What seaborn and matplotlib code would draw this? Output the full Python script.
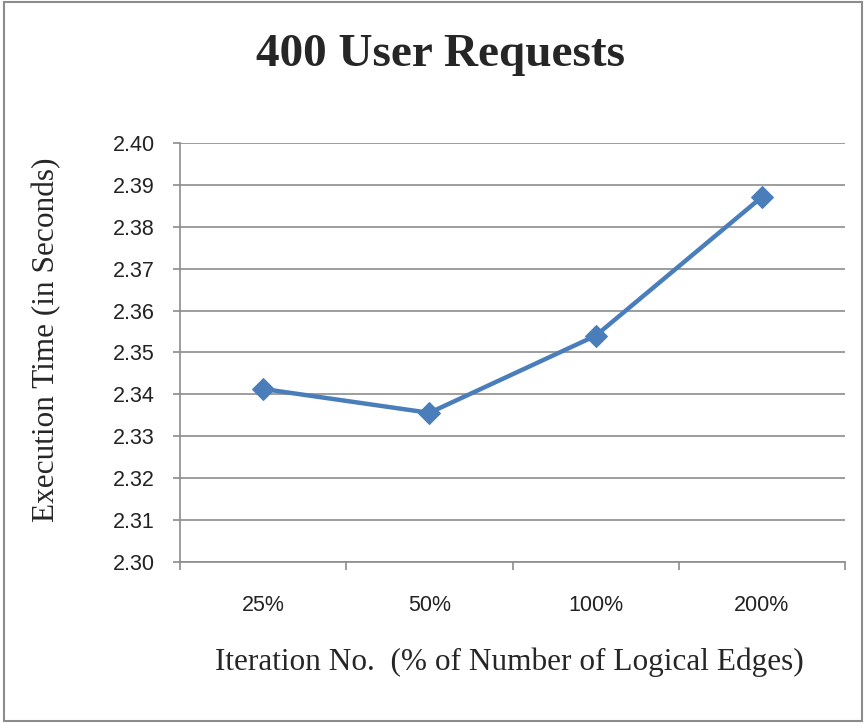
import matplotlib
matplotlib.use("Agg")
import matplotlib.pyplot as plt
import seaborn as sns
import pandas as pd
from matplotlib.patches import Rectangle
from matplotlib.ticker import FixedLocator

categories = ["25%", "50%", "100%", "200%"]
exec_time = [2.3413, 2.3356, 2.3540, 2.3871]
y_ticks = [2.30, 2.31, 2.32, 2.33, 2.34, 2.35, 2.36, 2.37, 2.38, 2.39, 2.40]

title = "400 User Requests"
x_label = "Iteration No.  (% of Number of Logical Edges)"
y_label = "Execution Time (in Seconds)"

sns.set_style("white")
serif = ["Liberation Serif", "DejaVu Serif"]
sans = ["Liberation Sans Narrow", "Liberation Sans", "DejaVu Sans"]

df = pd.DataFrame({"cat": categories, "val": exec_time})
df["pos"] = range(len(categories))

fig = plt.figure(figsize=(8.66, 7.23), dpi=100)
ax = fig.add_axes([180/866, 1-562/723, 665/866, (562-143)/723])

grid_c = "#8c8c8c"
for t in y_ticks:
    ax.axhline(t, color=grid_c, lw=1.2, zorder=0)

sns.lineplot(data=df, x="pos", y="val", ax=ax, color="#4A7EBB", lw=3.2,
             marker="D", markersize=11, markeredgecolor="#4A7EBB", zorder=3)

ax.set_xlim(-0.5, len(categories) - 0.5)
ax.set_ylim(2.30, 2.40)
ax.set_yticks(y_ticks)
ax.set_yticklabels([f"{t:.2f}" for t in y_ticks], family=sans, fontsize=15.5, color="#222222")
ax.set_xticks(range(len(categories)))
ax.set_xticklabels(categories, family=sans, fontsize=15.5, color="#222222")
ax.xaxis.set_minor_locator(FixedLocator([i - 0.5 for i in range(len(categories) + 1)]))
ax.tick_params(axis="x", which="major", length=0, pad=24)
ax.tick_params(axis="x", which="minor", length=6, width=1.2, color=grid_c, direction="out", bottom=True)
ax.tick_params(axis="y", which="major", length=5, width=1.2, color=grid_c, direction="out", left=True, pad=13)

for s in ["top", "right"]:
    ax.spines[s].set_visible(False)
for s in ["left", "bottom"]:
    ax.spines[s].set_color(grid_c)
    ax.spines[s].set_linewidth(1.2)
ax.set_xlabel("")
ax.set_ylabel("")

fig.text(440/866, 1-55/723, title, family=serif, fontsize=34, fontweight="bold",
         ha="center", va="center")
fig.text(509/866, 1-662/723, x_label, family=serif, fontsize=22.5, ha="center", va="center")
fig.text(47/866, 1-340/723, y_label, family=serif, fontsize=22.5, ha="center", va="center",
         rotation=90)

fig.add_artist(Rectangle((4/866, 2/723), 858/866, 719/723, transform=fig.transFigure,
                         fill=False, edgecolor="#8c8c8c", lw=1.5))

fig.savefig("out.png", dpi=100)
